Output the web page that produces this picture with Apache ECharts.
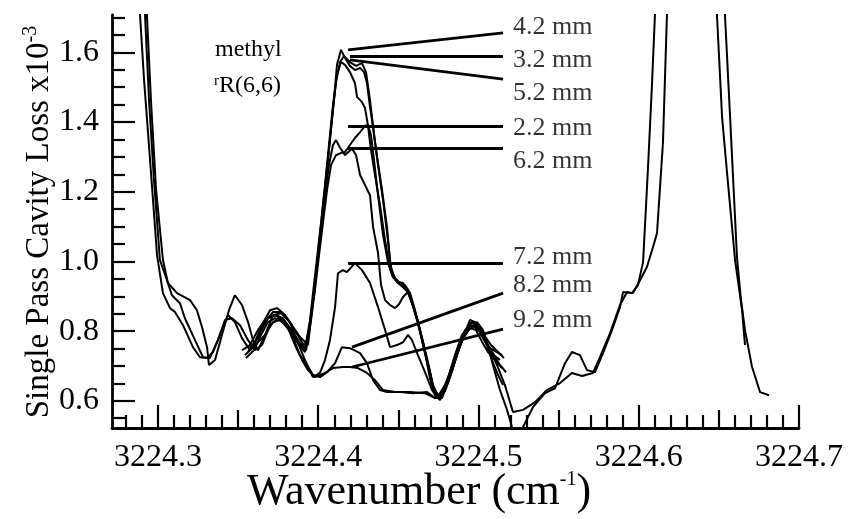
<!DOCTYPE html>
<html>
<head>
<meta charset="utf-8">
<script src="https://cdn.jsdelivr.net/npm/echarts@6/dist/echarts.min.js"></script>
<style>
  html, body { margin: 0; padding: 0; background: #fff; }
  #chart { width: 849px; height: 519px; }
</style>
</head>
<body>
<div id="chart"></div>
<script>
// ---- axis ticks (wavenumber in cm^-1, loss in units of 1e-3) ----
const xMajorTicks = [3224.3, 3224.4, 3224.5, 3224.6, 3224.7];
const xMidTicks = [3224.35, 3224.45, 3224.55, 3224.65];
const xMinorTicks = [3224.28, 3224.29, 3224.31, 3224.32, 3224.33, 3224.34, 3224.36, 3224.37, 3224.38, 3224.39,
  3224.41, 3224.42, 3224.43, 3224.44, 3224.46, 3224.47, 3224.48, 3224.49,
  3224.51, 3224.52, 3224.53, 3224.54, 3224.56, 3224.57, 3224.58, 3224.59,
  3224.61, 3224.62, 3224.63, 3224.64, 3224.66, 3224.67, 3224.68, 3224.69];
const yMajorTicks = [0.6, 0.8, 1.0, 1.2, 1.4, 1.6];
const yMinorTicks = [0.55, 0.65, 0.7, 0.75, 0.85, 0.9, 0.95, 1.05, 1.1, 1.15, 1.25, 1.3, 1.35, 1.45, 1.5, 1.55, 1.65, 1.7];

// ---- cavity loss spectra, one per probe distance: [wavenumber, loss] ----
const curve22 = [[3224.3524,0.745],[3224.3574,0.760],[3224.3624,0.803],[3224.3674,0.837],[3224.3730,0.846],[3224.3780,0.832],[3224.3830,0.803],[3224.3880,0.766],[3224.3924,0.745],[3224.3955,0.832],[3224.3980,0.918],[3224.4005,1.018],[3224.4030,1.113],[3224.4055,1.205],[3224.4080,1.277],[3224.4111,1.305],[3224.4142,1.311],[3224.4167,1.314],[3224.4198,1.334],[3224.4229,1.354],[3224.4261,1.371],[3224.4292,1.389],[3224.4310,1.391],[3224.4329,1.363],[3224.4348,1.291],[3224.4373,1.190],[3224.4404,1.076],[3224.4435,0.998],[3224.4460,0.961],[3224.4491,0.941],[3224.4523,0.932],[3224.4554,0.918],[3224.4585,0.883],[3224.4616,0.837],[3224.4648,0.780],[3224.4685,0.711],[3224.4716,0.645],[3224.4747,0.616],[3224.4785,0.625],[3224.4828,0.682],[3224.4872,0.745],[3224.4916,0.794],[3224.4959,0.826],[3224.4997,0.817],[3224.5034,0.789],[3224.5078,0.760],[3224.5122,0.740],[3224.5159,0.723]];

const curve32 = [[3224.3574,0.751],[3224.3624,0.780],[3224.3668,0.826],[3224.3718,0.855],[3224.3761,0.855],[3224.3811,0.832],[3224.3861,0.797],[3224.3905,0.763],[3224.3936,0.760],[3224.3961,0.860],[3224.3986,0.961],[3224.4011,1.061],[3224.4036,1.176],[3224.4061,1.291],[3224.4086,1.412],[3224.4111,1.515],[3224.4136,1.572],[3224.4161,1.589],[3224.4198,1.572],[3224.4236,1.561],[3224.4273,1.569],[3224.4298,1.543],[3224.4323,1.463],[3224.4348,1.363],[3224.4373,1.277],[3224.4404,1.176],[3224.4435,1.061],[3224.4454,0.981],[3224.4479,0.952],[3224.4510,0.938],[3224.4541,0.932],[3224.4573,0.909],[3224.4604,0.860],[3224.4635,0.803],[3224.4666,0.740],[3224.4697,0.665],[3224.4729,0.616],[3224.4760,0.602],[3224.4797,0.636],[3224.4841,0.694],[3224.4885,0.760],[3224.4928,0.803],[3224.4972,0.817],[3224.5009,0.797],[3224.5053,0.760],[3224.5097,0.731],[3224.5134,0.717]];

const curve42 = [[3224.3562,0.740],[3224.3605,0.769],[3224.3649,0.817],[3224.3699,0.860],[3224.3743,0.866],[3224.3793,0.846],[3224.3836,0.817],[3224.3886,0.783],[3224.3924,0.766],[3224.3949,0.832],[3224.3973,0.932],[3224.3998,1.032],[3224.4023,1.133],[3224.4048,1.239],[3224.4073,1.348],[3224.4098,1.463],[3224.4117,1.564],[3224.4142,1.607],[3224.4167,1.584],[3224.4198,1.561],[3224.4229,1.549],[3224.4261,1.555],[3224.4286,1.543],[3224.4304,1.512],[3224.4323,1.443],[3224.4342,1.386],[3224.4367,1.300],[3224.4398,1.205],[3224.4429,1.099],[3224.4448,0.998],[3224.4466,0.961],[3224.4498,0.941],[3224.4529,0.938],[3224.4560,0.918],[3224.4591,0.875],[3224.4616,0.837],[3224.4654,0.768],[3224.4685,0.703],[3224.4716,0.639],[3224.4747,0.611],[3224.4778,0.625],[3224.4822,0.682],[3224.4872,0.751],[3224.4916,0.803],[3224.4959,0.826],[3224.4997,0.809],[3224.5034,0.774],[3224.5072,0.751],[3224.5115,0.740],[3224.5147,0.731]];

const curve52 = [[3224.3543,0.731],[3224.3587,0.751],[3224.3637,0.797],[3224.3686,0.837],[3224.3736,0.846],[3224.3780,0.837],[3224.3824,0.809],[3224.3874,0.774],[3224.3917,0.751],[3224.3942,0.803],[3224.3967,0.889],[3224.3992,0.990],[3224.4017,1.104],[3224.4042,1.219],[3224.4067,1.334],[3224.4092,1.449],[3224.4117,1.535],[3224.4142,1.572],[3224.4167,1.564],[3224.4198,1.543],[3224.4229,1.512],[3224.4242,1.472],[3224.4273,1.457],[3224.4292,1.440],[3224.4310,1.391],[3224.4329,1.320],[3224.4354,1.248],[3224.4385,1.162],[3224.4417,1.061],[3224.4442,0.990],[3224.4466,0.955],[3224.4498,0.938],[3224.4529,0.926],[3224.4560,0.912],[3224.4585,0.880],[3224.4616,0.832],[3224.4648,0.774],[3224.4679,0.711],[3224.4710,0.645],[3224.4741,0.611],[3224.4772,0.608],[3224.4816,0.659],[3224.4860,0.723],[3224.4903,0.780],[3224.4947,0.809],[3224.4984,0.803],[3224.5022,0.769],[3224.5059,0.740],[3224.5103,0.717],[3224.5147,0.694]];

const curve62 = [[3224.3549,0.723],[3224.3599,0.745],[3224.3643,0.789],[3224.3686,0.826],[3224.3730,0.837],[3224.3780,0.826],[3224.3830,0.794],[3224.3880,0.760],[3224.3917,0.740],[3224.3942,0.797],[3224.3967,0.889],[3224.3992,0.990],[3224.4017,1.096],[3224.4042,1.190],[3224.4067,1.277],[3224.4092,1.334],[3224.4111,1.348],[3224.4136,1.326],[3224.4167,1.305],[3224.4211,1.323],[3224.4236,1.305],[3224.4261,1.248],[3224.4292,1.219],[3224.4323,1.190],[3224.4342,1.099],[3224.4373,1.024],[3224.4392,0.932],[3224.4417,0.889],[3224.4448,0.875],[3224.4479,0.866],[3224.4504,0.877],[3224.4529,0.898],[3224.4560,0.912],[3224.4591,0.872],[3224.4622,0.826],[3224.4654,0.760],[3224.4691,0.694],[3224.4722,0.631],[3224.4754,0.608],[3224.4791,0.631],[3224.4835,0.688],[3224.4878,0.751],[3224.4922,0.797],[3224.4966,0.814],[3224.5003,0.803],[3224.5041,0.774],[3224.5084,0.740],[3224.5134,0.703],[3224.5172,0.682]];

const curve72 = [[3224.2925,1.92],[3224.2931,1.707],[3224.2956,1.463],[3224.2988,1.205],[3224.3031,1.004],[3224.3062,0.938],[3224.3119,0.909],[3224.3200,0.889],[3224.3243,0.860],[3224.3275,0.811],[3224.3306,0.754],[3224.3318,0.703],[3224.3356,0.717],[3224.3399,0.789],[3224.3443,0.860],[3224.3480,0.903],[3224.3524,0.875],[3224.3562,0.826],[3224.3593,0.774],[3224.3624,0.745],[3224.3668,0.789],[3224.3718,0.846],[3224.3774,0.852],[3224.3824,0.826],[3224.3867,0.774],[3224.3917,0.717],[3224.3967,0.668],[3224.4011,0.680],[3224.4042,0.717],[3224.4073,0.774],[3224.4105,0.869],[3224.4123,0.966],[3224.4154,0.975],[3224.4179,0.969],[3224.4229,0.995],[3224.4273,0.975],[3224.4323,0.938],[3224.4373,0.869],[3224.4417,0.803],[3224.4448,0.754],[3224.4491,0.760],[3224.4529,0.768],[3224.4560,0.789],[3224.4585,0.774],[3224.4622,0.731],[3224.4666,0.682],[3224.4710,0.631],[3224.4741,0.608],[3224.4791,0.645],[3224.4841,0.703],[3224.4897,0.774],[3224.4947,0.832],[3224.4991,0.823],[3224.5041,0.774],[3224.5084,0.717],[3224.5122,0.674],[3224.5153,0.645]];

const curve82 = [[3224.2906,1.92],[3224.2919,1.707],[3224.2944,1.463],[3224.2975,1.234],[3224.3012,1.004],[3224.3056,0.946],[3224.3087,0.903],[3224.3137,0.880],[3224.3168,0.837],[3224.3231,0.774],[3224.3281,0.725],[3224.3324,0.723],[3224.3374,0.774],[3224.3418,0.832],[3224.3462,0.837],[3224.3512,0.817],[3224.3562,0.774],[3224.3605,0.745],[3224.3649,0.760],[3224.3699,0.817],[3224.3749,0.837],[3224.3793,0.826],[3224.3836,0.789],[3224.3886,0.731],[3224.3930,0.703],[3224.3967,0.674],[3224.4011,0.668],[3224.4055,0.682],[3224.4105,0.708],[3224.4148,0.754],[3224.4198,0.751],[3224.4261,0.737],[3224.4304,0.708],[3224.4342,0.659],[3224.4385,0.631],[3224.4429,0.625],[3224.4510,0.625],[3224.4591,0.622],[3224.4679,0.625],[3224.4729,0.608],[3224.4760,0.611],[3224.4810,0.665],[3224.4853,0.731],[3224.4897,0.789],[3224.4947,0.817],[3224.4991,0.811],[3224.5028,0.789],[3224.5072,0.745],[3224.5115,0.703],[3224.5165,0.645],[3224.5215,0.568],[3224.5278,0.574],[3224.5353,0.596],[3224.5427,0.631],[3224.5509,0.651],[3224.5583,0.680],[3224.5646,0.671],[3224.5714,0.680],[3224.5758,0.725],[3224.5821,0.794],[3224.5883,0.875],[3224.5927,0.912],[3224.5964,0.909],[3224.6008,0.946],[3224.6051,0.984],[3224.6083,1.032],[3224.6114,1.081],[3224.6151,1.340],[3224.6176,1.707],[3224.6189,1.92],[3224.633,3.0],[3224.6476,1.92],[3224.6488,1.707],[3224.6520,1.414],[3224.6551,1.254],[3224.6601,1.004],[3224.6645,0.860],[3224.6663,0.760]];

const curve92 = [[3224.2875,1.92],[3224.2888,1.707],[3224.2913,1.521],[3224.2938,1.368],[3224.2969,1.176],[3224.2994,1.018],[3224.3031,0.909],[3224.3075,0.866],[3224.3106,0.855],[3224.3156,0.817],[3224.3218,0.754],[3224.3262,0.725],[3224.3306,0.723],[3224.3343,0.740],[3224.3387,0.789],[3224.3437,0.846],[3224.3480,0.826],[3224.3524,0.780],[3224.3574,0.745],[3224.3668,0.789],[3224.3718,0.826],[3224.3761,0.832],[3224.3811,0.809],[3224.3855,0.760],[3224.3899,0.717],[3224.3936,0.688],[3224.3980,0.668],[3224.4042,0.680],[3224.4092,0.694],[3224.4154,0.697],[3224.4198,0.697],[3224.4248,0.694],[3224.4304,0.680],[3224.4354,0.659],[3224.4404,0.631],[3224.4479,0.625],[3224.4573,0.625],[3224.4666,0.622],[3224.4729,0.608],[3224.4760,0.611],[3224.4810,0.659],[3224.4853,0.717],[3224.4897,0.774],[3224.4947,0.809],[3224.4991,0.826],[3224.5028,0.803],[3224.5059,0.760],[3224.5090,0.703],[3224.5134,0.631],[3224.5178,0.574],[3224.5209,0.525],[3224.5228,0.488],[3224.5253,0.459],[3224.5278,0.525],[3224.5340,0.582],[3224.5415,0.622],[3224.5477,0.636],[3224.5540,0.708],[3224.5583,0.740],[3224.5633,0.731],[3224.5677,0.688],[3224.5727,0.682],[3224.5777,0.737],[3224.5833,0.803],[3224.5883,0.869],[3224.5902,0.912],[3224.5958,0.909],[3224.5995,0.932],[3224.6027,0.998],[3224.6058,1.271],[3224.6083,1.512],[3224.6101,1.707],[3224.6114,1.92],[3224.632,3.0],[3224.6526,1.92],[3224.6538,1.707],[3224.6570,1.414],[3224.6613,1.012],[3224.6638,0.889],[3224.6663,0.803],[3224.6707,0.697],[3224.6757,0.625],[3224.6813,0.616]];

// ---- distance tags and their pointer lines ----
const tagText = ['4.2 mm', '3.2 mm', '5.2 mm', '2.2 mm', '6.2 mm', '7.2 mm', '8.2 mm', '9.2 mm'];
const tagAt = [[3224.5215,1.673],[3224.5215,1.578],[3224.5215,1.483],[3224.5215,1.383],[3224.5215,1.288],[3224.5215,1.012],[3224.5215,0.932],[3224.5215,0.832]];
const pointerFrom = [[3224.4186,1.607],[3224.4198,1.589],[3224.4198,1.578],[3224.4186,1.389],[3224.4180,1.325],[3224.4186,0.995],[3224.4211,0.754],[3224.4211,0.697]];
const pointerTo = [[3224.5153,1.656],[3224.5153,1.589],[3224.5153,1.523],[3224.5153,1.389],[3224.5153,1.325],[3224.5153,0.995],[3224.5153,0.909],[3224.5153,0.806]];

const spectra = [curve22, curve32, curve42, curve52, curve62, curve72, curve82, curve92];

const FONT = '"Liberation Serif", "Times New Roman", serif';
const X_MIN = 3224.2713, X_MAX = 3224.7;
const Y_MIN = 0.522, Y_MAX = 1.707;

const chart = echarts.init(document.getElementById('chart'), null, { renderer: 'canvas' });

function xAxisBase(extra) {
  return Object.assign({
    type: 'value', min: X_MIN, max: X_MAX, position: 'bottom', gridIndex: 0,
    splitLine: { show: false },
    axisLine: { show: false },
    axisLabel: { show: false }
  }, extra);
}
function yAxisBase(extra) {
  return Object.assign({
    type: 'value', min: Y_MIN, max: Y_MAX, position: 'left', gridIndex: 0,
    splitLine: { show: false },
    axisLine: { show: false },
    axisLabel: { show: false }
  }, extra);
}

const series = [];
spectra.forEach(function (s) {
  series.push({
    type: 'line', data: s, xAxisIndex: 0, yAxisIndex: 0,
    showSymbol: false, symbol: 'none', smooth: false, clip: true, silent: true,
    lineStyle: { color: '#000', width: 2 }
  });
});
series.push({
  type: 'lines', coordinateSystem: 'cartesian2d', xAxisIndex: 0, yAxisIndex: 0, silent: true,
  lineStyle: { color: '#000', width: 2.8, opacity: 1 },
  data: pointerFrom.map(function (p, i) { return { coords: [p, pointerTo[i]] }; })
});
series.push({
  type: 'scatter', xAxisIndex: 0, yAxisIndex: 0, silent: true, symbolSize: 0,
  data: tagAt.map(function (p, i) { return { value: p, name: tagText[i] }; }),
  label: {
    show: true, position: 'right', distance: 0, formatter: '{b}',
    color: '#000', fontFamily: FONT, fontSize: 26, verticalAlign: 'middle'
  }
});

const sup = { fontFamily: FONT, fontSize: 20, fill: '#000', verticalAlign: 'top', lineHeight: 36 };

chart.setOption({
  animation: false,
  backgroundColor: '#fff',
  grid: { left: 112, top: 15, width: 687, height: 413, containLabel: false },
  xAxis: [
    xAxisBase({
      axisLine: { show: true, onZero: false, lineStyle: { color: '#000', width: 2.8 } },
      axisTick: { show: true, inside: true, length: 23, customValues: xMajorTicks, lineStyle: { color: '#000', width: 2.2 } },
      axisLabel: {
        show: true, customValues: xMajorTicks, margin: 14, color: '#000',
        fontFamily: FONT, fontSize: 32, formatter: function (v) { return v.toFixed(1); }
      }
    }),
    xAxisBase({ axisTick: { show: true, inside: true, length: 18, customValues: xMidTicks, lineStyle: { color: '#000', width: 2.2 } } }),
    xAxisBase({ axisTick: { show: true, inside: true, length: 13, customValues: xMinorTicks, lineStyle: { color: '#000', width: 2.2 } } })
  ],
  yAxis: [
    yAxisBase({
      axisLine: { show: true, onZero: false, lineStyle: { color: '#000', width: 2.8 } },
      axisTick: { show: true, inside: true, length: 23, customValues: yMajorTicks, lineStyle: { color: '#000', width: 2.2 } },
      axisLabel: {
        show: true, customValues: yMajorTicks, margin: 13, color: '#000',
        fontFamily: FONT, fontSize: 32, formatter: function (v) { return v.toFixed(1); }
      }
    }),
    yAxisBase({ axisTick: { show: true, inside: true, length: 13, customValues: yMinorTicks, lineStyle: { color: '#000', width: 2.2 } } })
  ],
  graphic: [
    {
      type: 'text', x: 39, y: 222, rotation: Math.PI / 2,
      style: {
        text: '{t|Single Pass Cavity Loss x10}{s|-3}',
        align: 'center', verticalAlign: 'middle', fill: '#000',
        rich: { t: { fontFamily: FONT, fontSize: 33, fill: '#000' }, s: sup }
      }
    },
    {
      type: 'text', x: 419, y: 492,
      style: {
        text: '{t|Wavenumber (cm}{s|-1}{t|)}',
        align: 'center', verticalAlign: 'middle', fill: '#000',
        rich: { t: { fontFamily: FONT, fontSize: 44, fill: '#000' }, s: sup }
      }
    },
    {
      type: 'text', x: 215, y: 50,
      style: { text: 'methyl', font: '24px ' + FONT, fill: '#000', align: 'left', verticalAlign: 'middle' }
    },
    {
      type: 'text', x: 214, y: 86,
      style: {
        text: '{s|r}{t|R(6,6)}', align: 'left', verticalAlign: 'middle', fill: '#000',
        rich: {
          t: { fontFamily: FONT, fontSize: 24, fill: '#000' },
          s: { fontFamily: FONT, fontSize: 15, fill: '#000', verticalAlign: 'top', lineHeight: 22 }
        }
      }
    }
  ],
  series: series
});
</script>
</body>
</html>
